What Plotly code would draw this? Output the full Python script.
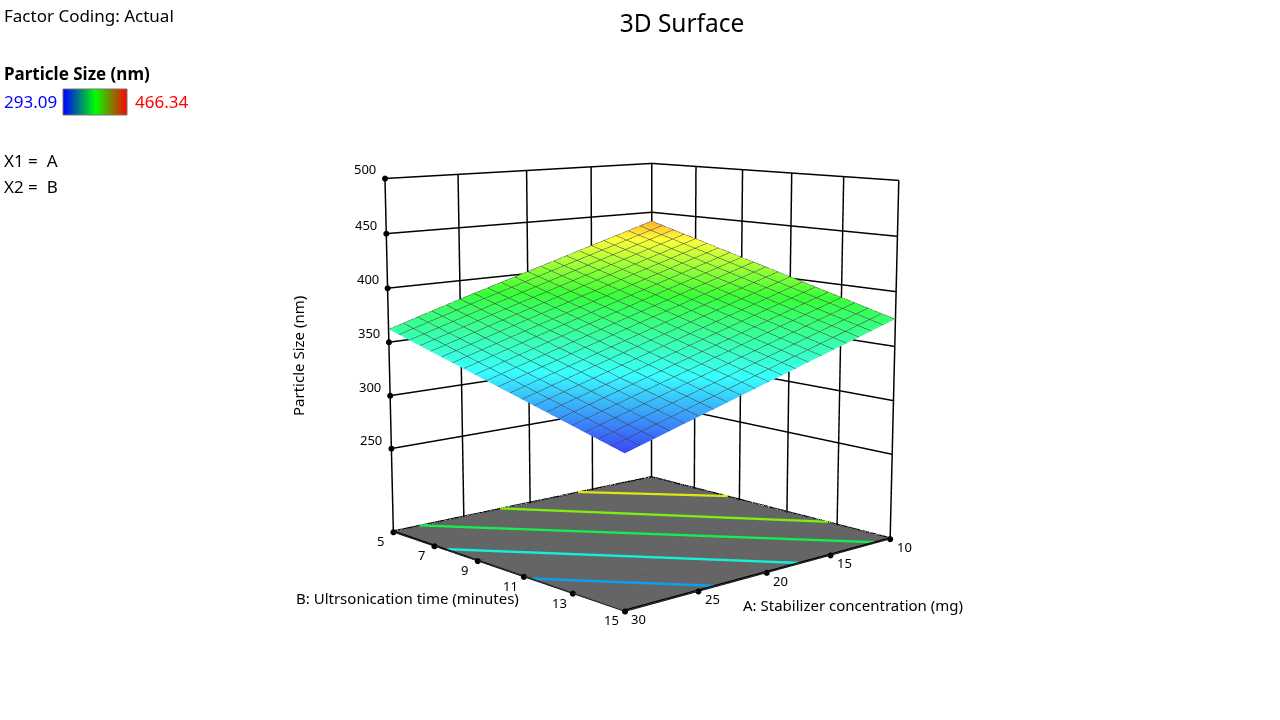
import plotly.graph_objects as go

# Axis values of the response surface
A_VALUES = [10, 15, 20, 25, 30]
B_VALUES = [5, 7.5, 10, 12.5, 15]
SIZE_VALUES = [
    [441.0, 421.5, 402.0, 382.5, 362.0],
    [424.5, 405.4, 386.0, 366.5, 346.5],
    [408.0, 389.0, 370.0, 350.5, 331.0],
    [391.5, 372.6, 353.5, 334.5, 315.5],
    [375.0, 356.25, 337.5, 318.75, 300.0],
]
SIZE_MIN = 300
SIZE_MAX = 441

A_TICKS = [10, 15, 20, 25, 30]
B_TICKS = [5, 7, 9, 11, 13, 15]
Z_TICKS = [250, 300, 350, 400, 450, 500]
FLOOR_Z = 170

# Contour lines on the floor: A and B at both ends
CONTOUR_A = [[30, 23.9], [30, 17.6], [28.2, 11.4], [22.3, 10], [16.2, 10]]
CONTOUR_B = [[11.4, 15], [7.6, 15], [5, 15], [5, 12.65], [5, 8.5]]
CONTOUR_COLORS = ["#0aa0f0", "#12f0d8", "#14ee50", "#7cee10", "#d8e810"]

# Outline of the floor
EDGE_A = [10, 30, 30, 10, 10]
EDGE_B = [5, 5, 15, 15, 5]

LEGEND_VALUES = [293.09, 379.715, 466.34]

SURFACE_SCALE = [
    [0.0, "#3c46f5"],
    [0.28, "#38ffff"],
    [0.62, "#38ff38"],
    [0.9, "#ffff38"],
    [1.0, "#ffb030"],
]
FONT = "Noto Sans"

# plotly's field of view is fixed, so the flat perspective of the original needs
# a taller figure; the page is scrolled up by SHIFT so the box sits in the window
PAGE_H = 1505
SHIFT = 392


def py(y):
    return 1 - (y + SHIFT) / PAGE_H


fig = go.Figure()

fig.add_trace(go.Surface(
    x=A_VALUES, y=B_VALUES, z=SIZE_VALUES,
    colorscale=SURFACE_SCALE, cmin=SIZE_MIN, cmax=SIZE_MAX, showscale=False,
    lighting=dict(ambient=1, diffuse=0, specular=0, roughness=1, fresnel=0),
    contours=dict(
        x=dict(show=True, start=10, end=30.01, size=1, color="#404040", width=1),
        y=dict(show=True, start=5, end=15.01, size=0.5, color="#404040", width=1),
    ),
    hoverinfo="skip",
))

# grey floor
fig.add_trace(go.Surface(
    x=[10, 30], y=[5, 15], z=[[FLOOR_Z + 0.2] * 2] * 2,
    colorscale=[[0, "#656565"], [1, "#656565"]], showscale=False,
    lighting=dict(ambient=1, diffuse=0, specular=0),
    hoverinfo="skip",
))

for a, b, c in zip(CONTOUR_A, CONTOUR_B, CONTOUR_COLORS):
    fig.add_trace(go.Scatter3d(
        x=a, y=b, z=[FLOOR_Z + 1.2] * 2, mode="lines",
        line=dict(color=c, width=5), showlegend=False, hoverinfo="skip",
    ))

fig.add_trace(go.Scatter3d(
    x=EDGE_A, y=EDGE_B, z=[FLOOR_Z + 1.2] * len(EDGE_A), mode="lines",
    line=dict(color="black", width=2.5), showlegend=False, hoverinfo="skip",
))

# tick dots
dot = dict(size=3.5, color="black")
fig.add_trace(go.Scatter3d(x=A_TICKS, y=[15] * len(A_TICKS), z=[FLOOR_Z] * len(A_TICKS),
                           mode="markers", marker=dot, showlegend=False, hoverinfo="skip"))
fig.add_trace(go.Scatter3d(x=[30] * len(B_TICKS), y=B_TICKS, z=[FLOOR_Z] * len(B_TICKS),
                           mode="markers", marker=dot, showlegend=False, hoverinfo="skip"))
fig.add_trace(go.Scatter3d(x=[30] * len(Z_TICKS), y=[5] * len(Z_TICKS), z=Z_TICKS,
                           mode="markers", marker=dot, showlegend=False, hoverinfo="skip"))

# small legend gradient
fig.add_trace(go.Heatmap(
    z=[LEGEND_VALUES], zsmooth="best", showscale=False, hoverinfo="skip",
    colorscale=[[0, "#0000ff"], [0.5, "#00ff00"], [1, "#ff0000"]],
    xaxis="x", yaxis="y",
))

axis_common = dict(
    showbackground=False, showgrid=True, gridcolor="black", gridwidth=3,
    showline=False, zeroline=False,
    showspikes=False, ticks="", showticklabels=False,
    title=dict(text=""),
)

# tick labels hang off the dots like in the original
tick_font = dict(family=FONT, size=13, color="black")
tick_labels = []
for a in A_TICKS:
    tick_labels.append(dict(x=a, y=15, z=FLOOR_Z, text=str(a), xshift=14, yshift=-8))
for b in B_TICKS:
    tick_labels.append(dict(x=30, y=b, z=FLOOR_Z, text=str(b), xshift=-13, yshift=-9))
for v in Z_TICKS:
    tick_labels.append(dict(x=30, y=5, z=v, text=str(v), xshift=-20, yshift=9))
for t in tick_labels:
    t.update(showarrow=False, font=tick_font)

fig.update_layout(
    width=1280, height=PAGE_H,
    margin=dict(l=0, r=0, t=0, b=0),
    paper_bgcolor="white",
    showlegend=False,
    font=dict(family=FONT, color="black"),
    title=dict(text="3D Surface", x=682 / 1280, y=py(23), xanchor="center", yanchor="middle",
               font=dict(size=24.5, family=FONT, color="black")),
    xaxis=dict(domain=[63 / 1280, 127 / 1280], range=[0, 2], visible=False),
    yaxis=dict(domain=[py(115), py(89)], visible=False),
    scene=dict(
        domain=dict(x=[0, 1], y=[0, 1]),
        xaxis=dict(axis_common, range=[10, 30], tickvals=A_TICKS, autorange=False),
        yaxis=dict(axis_common, range=[5, 15], tickvals=B_TICKS, autorange=False),
        zaxis=dict(axis_common, range=[FLOOR_Z, 500], tickvals=Z_TICKS, autorange=False),
        aspectmode="manual",
        aspectratio=dict(x=1, y=1, z=1.01),
        camera=dict(
            eye=dict(x=3.35, y=3.72, z=0.86),
            center=dict(x=0, y=0, z=0),
            up=dict(x=0, y=0, z=1),
        ),
        annotations=tick_labels,
    ),
    shapes=[dict(type="rect", xref="paper", yref="paper",
                 x0=63 / 1280, x1=127 / 1280, y0=py(115), y1=py(89),
                 line=dict(color="#777777", width=1))],
    annotations=[
        dict(text="Factor Coding: Actual", x=2, y=15, xanchor="left", font=dict(size=17)),
        dict(text="<b>Particle Size (nm)</b>", x=2, y=73, xanchor="left", font=dict(size=17)),
        dict(text="293.09", x=2, y=101, xanchor="left", font=dict(size=17, color="#0000ff")),
        dict(text="466.34", x=133, y=101, xanchor="left", font=dict(size=17, color="#ff0000")),
        dict(text="X1 =\u00a0 A", x=2, y=160, xanchor="left", font=dict(size=17)),
        dict(text="X2 =\u00a0 B", x=2, y=186, xanchor="left", font=dict(size=17)),
        dict(text="Particle Size (nm)", x=298, y=356, xanchor="center", textangle=-90, font=dict(size=15)),
        dict(text="A: Stabilizer concentration (mg)", x=853, y=605, xanchor="center", font=dict(size=15)),
        dict(text="B: Ultrsonication time (minutes)", x=407, y=598, xanchor="center", font=dict(size=15)),
    ],
)

# annotation positions are given in pixels above, convert to paper fractions
for ann in fig.layout.annotations:
    ann.update(xref="paper", yref="paper", x=ann.x / 1280, y=py(ann.y),
               yanchor="middle", showarrow=False)

page_css = (
    "document.body.style.margin='0';"
    "document.body.style.overflow='hidden';"
    "document.documentElement.style.overflow='hidden';"
    "document.getElementById('{plot_id}').style.marginTop='-%dpx';" % SHIFT
)
fig.write_html("out.html", post_script=page_css, config=dict(displayModeBar=False))
